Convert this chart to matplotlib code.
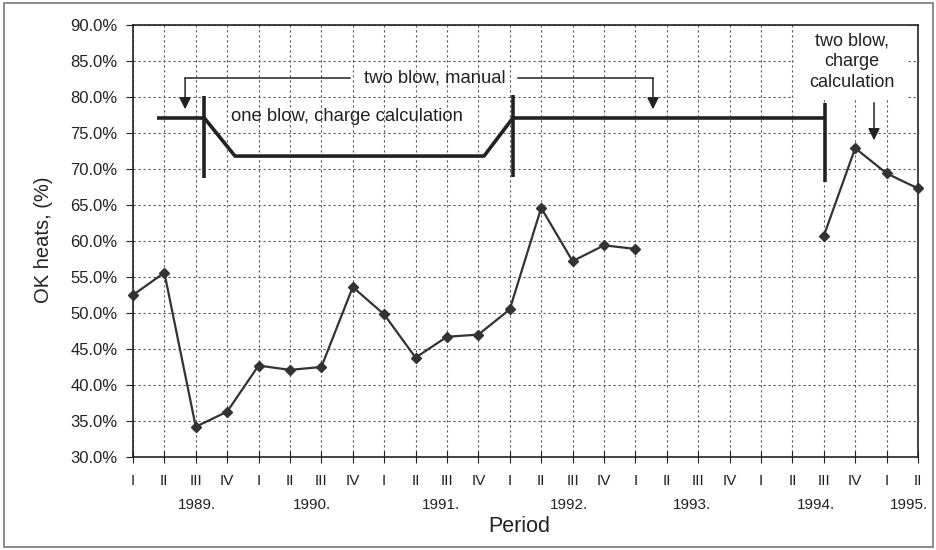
import numpy as np
import matplotlib
matplotlib.use("Agg")
import matplotlib.pyplot as plt
from matplotlib.patches import Rectangle

plt.rcParams['font.family'] = ['Liberation Sans', 'DejaVu Sans']

quarters = ["I", "II", "III", "IV", "I", "II", "III", "IV", "I", "II", "III", "IV", "I",
            "II", "III", "IV", "I", "II", "III", "IV", "I", "II", "III", "IV", "I", "II"]
ok_heats = [52.5, 55.6, 34.2, 36.3, 42.7, 42.1, 42.5, 53.6, 49.8, 43.8, 46.7, 47.0, 50.5,
            64.6, 57.2, 59.4, 58.9, np.nan, np.nan, np.nan, np.nan, np.nan, 60.7, 72.9, 69.4, 67.3]
years = ["1989.", "1990.", "1991.", "1992.", "1993.", "1994.", "1995."]
year_pos = [2.05, 5.7, 9.8, 13.9, 17.8, 21.75, 24.7]
yticks = [30, 35, 40, 45, 50, 55, 60, 65, 70, 75, 80, 85, 90]

ink = "#222222"
fig = plt.figure(figsize=(9.37, 5.5), dpi=100)
fig.patches.append(Rectangle((0.004, 0.006), 0.992, 0.988, transform=fig.transFigure,
                             fill=False, edgecolor="#777777", lw=1.2))
ax = fig.add_axes([0.1419, 0.1691, 0.8378, 0.7854])

x = np.arange(len(quarters))
ax.plot(x, ok_heats, color="#333333", lw=1.6, marker="D", ms=5.5, mfc="#333333", mec="#333333",
        zorder=5, clip_on=False)

ax.set_xlim(0, len(quarters) - 1)
ax.set_ylim(30, 90)
ax.set_yticks(yticks)
ax.set_yticklabels([f"{v:.1f}%" for v in yticks], fontsize=12, color=ink)
ax.set_xticks(x)
ax.set_xticklabels(quarters, fontsize=11, color=ink)
ax.tick_params(axis="x", direction="inout", length=8, pad=8, color=ink)
ax.tick_params(axis="y", direction="out", length=5, pad=6, color=ink)
ax.grid(True, color="#555555", lw=0.8, linestyle=(0, (2, 2.5)))
for s in ax.spines.values():
    s.set_color(ink)
    s.set_linewidth(1.2)

for yp, yl in zip(year_pos, years):
    ax.text(yp, -0.111, yl, transform=ax.get_xaxis_transform(), ha="center", va="center",
            fontsize=11, color=ink)
ax.text(12.3, -0.162, "Period", transform=ax.get_xaxis_transform(), ha="center", va="center",
        fontsize=15.5, color=ink)
fig.text(0.046, 0.565, "OK heats, (%)", rotation=90, ha="center", va="center", fontsize=14.5, color=ink)

# white box behind the upper-right note
ax.add_patch(Rectangle((21.05, 79.7), 3.6, 10.3, facecolor="white", edgecolor="none", zorder=2))

# thick regime lines
thick = dict(color=ink, lw=2.6, solid_capstyle="butt", zorder=4)
ax.plot([0.75, 2.27], [77.1, 77.1], **thick)
ax.plot([2.27, 3.25, 11.18, 12.1], [77.1, 71.8, 71.8, 77.1], **thick)
ax.plot([12.1, 22.04], [77.1, 77.1], **thick)
ax.plot([2.27, 2.27], [68.75, 80.1], **thick)
ax.plot([12.1, 12.1], [68.9, 80.3], **thick)
ax.plot([22.04, 22.04], [68.2, 79.2], **thick)

# two blow, manual bracket
thin = dict(color=ink, lw=1.1, zorder=4)
ax.plot([6.9, 1.66], [82.6, 82.6], **thin)
ax.plot([12.26, 16.56], [82.6, 82.6], **thin)
arr = dict(arrowstyle="-|>,head_length=0.7,head_width=0.35", color=ink, lw=1.1, shrinkA=0, shrinkB=0)
ax.annotate("", xy=(1.66, 78.3), xytext=(1.66, 82.6), arrowprops=arr)
ax.annotate("", xy=(16.56, 78.3), xytext=(16.56, 82.6), arrowprops=arr)
ax.text(9.6, 82.6, "two blow, manual", ha="center", va="center", fontsize=13.3, color=ink)
ax.text(6.8, 77.3, "one blow, charge calculation", ha="center", va="center", fontsize=13.3, color=ink)
ax.text(22.9, 84.9, "two blow,\ncharge\ncalculation", ha="center", va="center", fontsize=13,
        color=ink, linespacing=1.3, zorder=3)
ax.annotate("", xy=(23.6, 74.0), xytext=(23.6, 79.2), arrowprops=arr)

fig.savefig("out.png", dpi=100)
